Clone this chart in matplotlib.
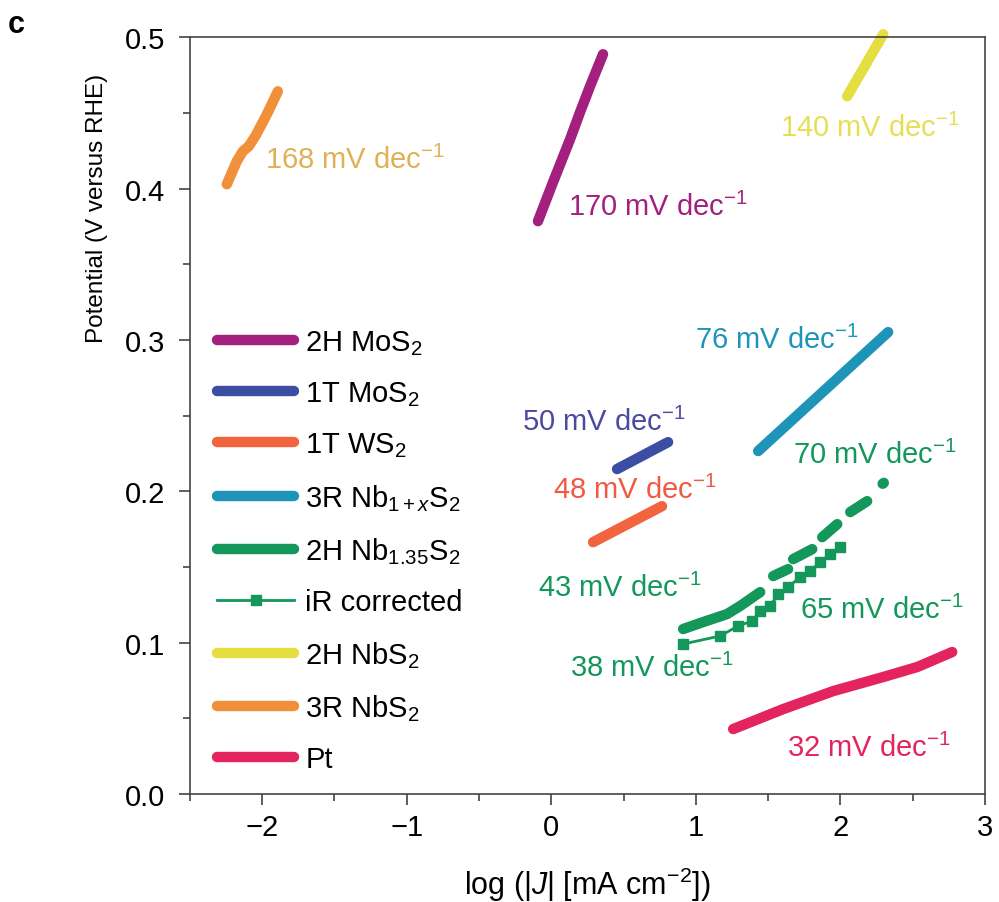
import numpy as np
import matplotlib
matplotlib.use("Agg")
import matplotlib.pyplot as plt

plt.rcParams['font.family'] = ['Liberation Sans', 'DejaVu Sans']
plt.rcParams['mathtext.fontset'] = 'custom'
plt.rcParams['mathtext.rm'] = 'Liberation Sans'
plt.rcParams['mathtext.it'] = 'Liberation Sans:italic'
plt.rcParams['mathtext.bf'] = 'Liberation Sans:bold'

# Tafel curves: log|J| (mA cm-2) vs potential (V vs RHE)
mos2_2h_x = [-0.092, 0.012, 0.130, 0.199, 0.268, 0.358]
mos2_2h_y = [0.3785, 0.4042, 0.4326, 0.4505, 0.4676, 0.4888]

mos2_1t_x = [0.455, 0.808]
mos2_1t_y = [0.2147, 0.2325]

ws2_1t_x = [0.289, 0.766]
ws2_1t_y = [0.1664, 0.1902]

nb1x_3r_x = [1.431, 2.330]
nb1x_3r_y = [0.2266, 0.3052]

# sparse points at high current leave gaps (nan) between the clusters
nb135_x = [0.912, 1.050, 1.216, 1.306, 1.445, np.nan,
           1.535, 1.638, np.nan, 1.673, 1.805, np.nan,
           1.874, 1.978, np.nan, 2.068, 2.185, np.nan, 2.292, 2.300]
nb135_y = [0.109, 0.1136, 0.1189, 0.1242, 0.1334, np.nan,
           0.144, 0.1486, np.nan, 0.1552, 0.1618, np.nan,
           0.1697, 0.1783, np.nan, 0.1863, 0.1935, np.nan, 0.2050, 0.2056]

ir_x = [0.912, 1.168, 1.292, 1.389, 1.445, 1.514, 1.569, 1.638,
        1.721, 1.791, 1.860, 1.929, 1.998]
ir_y = [0.0991, 0.1044, 0.1110, 0.1143, 0.1209, 0.1242, 0.1321, 0.1367,
        0.1433, 0.1473, 0.1532, 0.1585, 0.1631]

nbs2_2h_x = [2.047, 2.296]
nbs2_2h_y = [0.461, 0.502]

nbs2_3r_x = [-2.244, -2.175, -2.133, -2.092, -2.043, -1.967, -1.891]
nbs2_3r_y = [0.4029, 0.4181, 0.4247, 0.4280, 0.4353, 0.4491, 0.4643]

pt_x = [1.258, 1.604, 1.950, 2.296, 2.531, 2.773]
pt_y = [0.0429, 0.0561, 0.0680, 0.0773, 0.0839, 0.0938]

c_mos2_2h = '#a3207f'
c_mos2_1t = '#3b4ea3'
c_ws2 = '#f26440'
c_nb1x = '#1e95b8'
c_green = '#13975a'
c_nbs2_2h = '#e5de40'
c_nbs2_3r = '#f0903a'
c_pt = '#e3245e'

fig = plt.figure(figsize=(9.99, 9.03), dpi=100)
ax = fig.add_axes([0.190, 0.1196, 0.796, 0.838])

lw = 7.5
kw = dict(lw=lw, solid_capstyle='round')
ax.plot(mos2_2h_x, mos2_2h_y, color=c_mos2_2h, label='2H MoS$_2$', **kw)
ax.plot(mos2_1t_x, mos2_1t_y, color=c_mos2_1t, label='1T MoS$_2$', **kw)
ax.plot(ws2_1t_x, ws2_1t_y, color=c_ws2, label='1T WS$_2$', **kw)
ax.plot(nb1x_3r_x, nb1x_3r_y, color=c_nb1x, label=r'3R Nb$_{1+\mathit{x}}$S$_2$', **kw)
ax.plot(nb135_x, nb135_y, color=c_green, label='2H Nb$_{1.35}$S$_2$', **kw)
ax.plot(ir_x, ir_y, color=c_green, lw=2, marker='s', ms=7, label='iR corrected')
ax.plot(nbs2_2h_x, nbs2_2h_y, color=c_nbs2_2h, label='2H NbS$_2$', clip_on=False, **kw)
ax.plot(nbs2_3r_x, nbs2_3r_y, color=c_nbs2_3r, label='3R NbS$_2$', **kw)
ax.plot(pt_x, pt_y, color=c_pt, label='Pt', **kw)

# Tafel slope annotations
fs = 21
slopes = [
    (-1.981, 0.4194, '168', '#dfb155'),
    (0.116, 0.3884, '170', c_mos2_2h),
    (1.583, 0.4405, '140', '#e6df55'),
    (0.995, 0.3005, '76', c_nb1x),
    (-0.202, 0.2464, '50', '#4a4aa0'),
    (0.012, 0.2015, '48', '#f05a40'),
    (1.673, 0.2246, '70', c_green),
    (-0.092, 0.1367, '43', c_green),
    (1.721, 0.1222, '65', c_green),
    (0.130, 0.0839, '38', c_green),
    (1.631, 0.0310, '32', c_pt),
]
for x, y, s, c in slopes:
    ax.text(x, y, s + r' mV dec$^{-1}$', color=c, fontsize=fs, ha='left', va='center')

ax.set_xlim(-2.5, 3)
ax.set_ylim(0, 0.5)
ax.set_xticks([-2, -1, 0, 1, 2, 3])
ax.set_xticklabels(['\u22122', '\u22121', '0', '1', '2', '3'])
ax.set_xticks(np.arange(-2.5, 3.0, 0.5), minor=True)
ax.set_yticks([0, 0.1, 0.2, 0.3, 0.4, 0.5])
ax.set_yticklabels(['0.0', '0.1', '0.2', '0.3', '0.4', '0.5'])
ax.set_yticks(np.arange(0.05, 0.5, 0.1), minor=True)
ax.tick_params(which='major', direction='out', length=8, width=1.2, labelsize=fs,
               color='#444444', pad=6)
ax.tick_params(axis='y', which='major', pad=10)
ax.tick_params(which='minor', direction='out', length=5, width=1.2, color='#444444')
for sp in ax.spines.values():
    sp.set_color('#444444')
    sp.set_linewidth(1.2)

ax.set_xlabel(r'log (|$\mathit{J}$| [mA cm$^{-2}$])', fontsize=22, labelpad=17)
ax.set_ylabel('Potential (V versus RHE)', fontsize=17.5)
ax.yaxis.set_label_coords(-0.103, 0.775)

ax.legend(loc='upper left', bbox_to_anchor=(0.02, 0.631), frameon=False, fontsize=fs,
          handlelength=2.63, handletextpad=0.38, labelspacing=0.77, borderaxespad=0.0)

fig.text(0.008, 0.972, 'c', fontsize=22, fontweight='bold', ha='left', va='center')

fig.savefig('out.png', dpi=100)
